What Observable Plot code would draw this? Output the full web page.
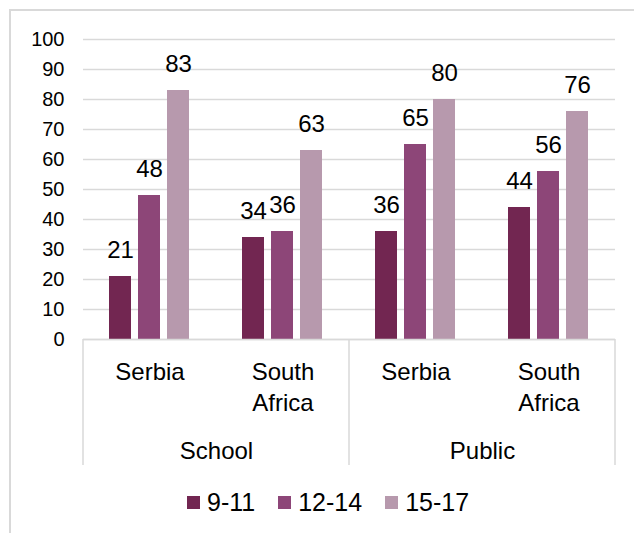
<!DOCTYPE html>
<html>
<head>
<meta charset="utf-8">
<script src="https://cdn.jsdelivr.net/npm/d3@7"></script>
<script src="https://cdn.jsdelivr.net/npm/@observablehq/plot@0.6"></script>
<style>
  html, body { margin: 0; padding: 0; background: #fff; }
  #wrap { position: relative; width: 634px; height: 533px; overflow: hidden; font-family: "Liberation Sans", Arial, sans-serif; }
  #border { position: absolute; left: 9px; top: 9px; width: 700px; height: 600px;
            border-top: 2px solid #d9d9d9; border-left: 2px solid #d9d9d9; }
  #chart { position: absolute; left: 0; top: 0; }
  #legend { position: absolute; left: 187px; top: 486px; }
  .ages, .ages * { font-family: "Liberation Sans", Arial, sans-serif !important; font-size: 25px !important; color: #000; }
  .ages { margin: 0; min-height: 0; }
  .ages-swatch { margin-right: 23px !important; }
  .ages-swatch > svg { margin-right: 7px !important; }
</style>
</head>
<body>
<div id="wrap">
  <div id="border"></div>
  <div id="chart"></div>
  <div id="legend"></div>
</div>
<script>
// Survey groups and countries along the x axis
const groups = ["School", "School", "Public", "Public"];
const countries = ["Serbia", "South Africa", "Serbia", "South Africa"];
const countryLabels = ["Serbia", "South\nAfrica", "Serbia", "South\nAfrica"];

// Age bands (series)
const ages = ["9-11", "12-14", "15-17"];
const ageColors = ["#722651", "#8d4678", "#b799ad"];

// Values per age band, in the order of the categories above
const values_9_11 = [21, 34, 36, 44];
const values_12_14 = [48, 36, 65, 56];
const values_15_17 = [83, 63, 80, 76];

const yTicks = [0, 10, 20, 30, 40, 50, 60, 70, 80, 90, 100];

// Long-format table for Plot
const keys = groups.map((g, i) => g + "|" + countries[i]);
const series = [values_9_11, values_12_14, values_15_17];
const rows = [];
keys.forEach((k, i) => {
  ages.forEach((a, j) => {
    rows.push({key: k, group: groups[i], country: countries[i], age: a, value: series[j][i]});
  });
});
const labelOf = new Map(keys.map((k, i) => [k, countryLabels[i]]));
// first category of each group carries the group label, centred on its right edge
const groupStarts = keys
  .map((k, i) => ({key: k, group: groups[i], first: i === 0 || groups[i - 1] !== groups[i]}))
  .filter(d => d.first);

const font = "'Liberation Sans', Arial, sans-serif";
const gridColor = "#d9d9d9";

const chart = Plot.plot({
  width: 634,
  height: 470,
  marginLeft: 81,
  marginRight: 18,
  marginTop: 39,
  marginBottom: 131,
  style: {fontFamily: font, color: "#000", background: "transparent", overflow: "visible"},
  fx: {domain: keys, padding: 0},
  x: {domain: ages, paddingInner: 0.23, paddingOuter: 0.86, axis: null},
  y: {domain: [0, 100], axis: null},
  color: {domain: ages, range: ageColors},
  marks: [
    Plot.gridY(yTicks, {stroke: gridColor, strokeOpacity: 1, strokeWidth: 1.5}),
    Plot.barY(rows, {fx: "key", x: "age", y: "value", fill: "age"}),
    Plot.ruleY([0], {stroke: gridColor, strokeWidth: 1.5}),
    Plot.text(rows, {
      fx: "key", x: "age", y: "value", text: d => String(d.value),
      lineAnchor: "bottom", dy: -19, fontSize: 24, fill: "#000"
    }),
    Plot.axisY({ticks: yTicks, tickSize: 0, tickPadding: 19, fontSize: 20, label: null}),
    Plot.axisFx({
      anchor: "bottom", tickSize: 0, tickPadding: 18, fontSize: 24, lineHeight: 1.3,
      tickFormat: k => labelOf.get(k), label: null
    }),
    Plot.text(groupStarts, {
      fx: "key", text: "group", frameAnchor: "bottom-right", textAnchor: "middle",
      lineAnchor: "bottom", dy: 119, fontSize: 24, fill: "#000"
    })
  ]
});

// Group separators under the category axis, placed with the facet scale
const fx = chart.scale("fx");
const yScale = chart.scale("y");
const sepX = [];
keys.forEach((k, i) => {
  if (i === 0 || groups[i - 1] !== groups[i]) sepX.push(fx.apply(k));
});
sepX.push(fx.apply(keys[keys.length - 1]) + fx.bandwidth);
d3.select(chart).append("g")
  .attr("stroke", gridColor)
  .attr("stroke-width", 1.5)
  .selectAll("line")
  .data(sepX)
  .join("line")
  .attr("x1", d => d).attr("x2", d => d)
  .attr("y1", yScale.apply(0)).attr("y2", 465);

document.getElementById("chart").append(chart);

const legend = Plot.legend({
  color: {domain: ages, range: ageColors},
  legend: "swatches",
  swatchSize: 13,
  className: "ages",
  style: {fontFamily: font, fontSize: "25px"}
});
document.getElementById("legend").append(legend);
</script>
</body>
</html>
